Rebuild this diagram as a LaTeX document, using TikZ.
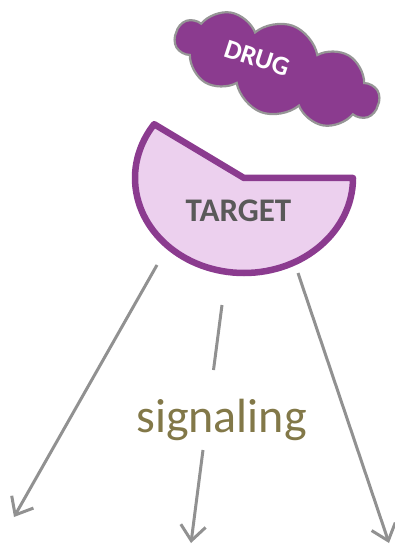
\documentclass[tikz,border=0pt]{standalone}
\usepackage{fontspec}
\setmainfont{Carlito}
\usetikzlibrary{shapes.symbols,arrows.meta}
\definecolor{drugpurple}{RGB}{139,59,143}
\definecolor{targetfill}{RGB}{236,208,238}
\definecolor{cloudedge}{RGB}{150,150,150}
\definecolor{arrowgray}{RGB}{145,145,145}
\definecolor{targettext}{RGB}{89,89,89}
\definecolor{sigtext}{RGB}{130,120,72}
\tikzset{
  arrowline/.style={draw=arrowgray, line width=3pt},
  sigarrow/.style={arrowline, -{Straight Barb[length=15pt,width=25pt,line width=3pt]}},
}
\begin{document}
\begin{tikzpicture}[x=1pt,y=1pt]
\useasboundingbox (0,0) rectangle (395,-545);
% drug cloud
\node[cloud, cloud puffs=10, cloud puff arc=120, aspect=2.4,
      minimum width=214pt, minimum height=92pt, inner sep=0pt,
      fill=drugpurple, draw=cloudedge, line width=2.2pt, rotate=-20] (cloud) at (277,-69) {};
\node[text=white, font=\bfseries\fontsize{27}{32}\selectfont, rotate=-18] (drug) at (257,-58) {DRUG};
% target
\coordinate (tc) at (244,-178);
\draw[fill=targetfill, draw=drugpurple, line width=6.5pt, line join=round]
  (tc) -- ++(109,0) arc[start angle=0, end angle=-214.5, x radius=109, y radius=95] -- cycle;
\node[text=targettext, font=\bfseries\fontsize{33}{38}\selectfont, anchor=base] (target) at (238.5,-221.5) {TARGET};
% signaling arrows
\coordinate (a1s) at (157,-265);
\coordinate (a1e) at (14,-517);
\coordinate (a2s) at (222,-305);
\coordinate (a2m) at (213.5,-370);
\coordinate (a2n) at (203,-450);
\coordinate (a2e) at (191,-543);
\coordinate (a3s) at (298,-273);
\coordinate (a3e) at (389,-543);
\draw[sigarrow] (a1s) -- (a1e);
\draw[arrowline] (a2s) -- (a2m);
\draw[sigarrow] (a2n) -- (a2e);
\draw[sigarrow] (a3s) -- (a3e);
\node[text=sigtext, font=\fontsize{48}{56}\selectfont, anchor=base] (sig) at (221.5,-432) {signaling};
\end{tikzpicture}
\end{document}
